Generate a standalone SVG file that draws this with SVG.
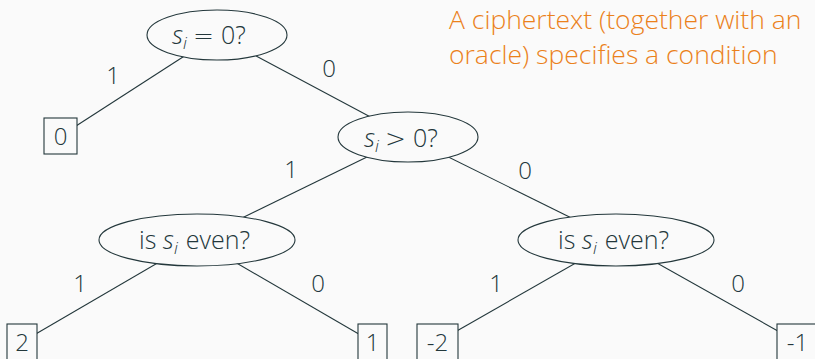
<svg xmlns="http://www.w3.org/2000/svg" width="815" height="359" viewBox="0 0 815 359">
  <style>
    .node { fill: #fafafa; stroke: #23373b; stroke-width: 1.1; }
    .edge { stroke: #23373b; stroke-width: 1.1; fill: none; }
    .lbl { font-family: "Open Sans", "Liberation Sans", sans-serif; font-weight: 300; font-size: 24px; fill: #23373b; text-anchor: middle; }
    .eq { font-family: "Open Sans", "Liberation Sans", sans-serif; font-weight: 300; font-size: 25px; fill: #23373b; }
    .sub { font-size: 17px; font-style: italic; }
    .var { font-style: italic; font-size: 26px; }
    .op { font-family: "DejaVu Sans", sans-serif; font-weight: 200; }
    .note { font-family: "Open Sans", "Liberation Sans", sans-serif; font-weight: 300; font-size: 26.5px; fill: #eb811b; }
  </style>
  <rect width="815" height="359" fill="#fafafa"/>

  <!-- connectors: drawn centre to centre, the node shapes cover the inner ends -->
  <g id="edges">
    <line class="edge" x1="217" y1="35" x2="60.5" y2="136"/>
    <line class="edge" x1="217" y1="35" x2="408" y2="137"/>
    <line class="edge" x1="408" y1="137" x2="197" y2="240"/>
    <line class="edge" x1="408" y1="137" x2="616" y2="240"/>
    <line class="edge" x1="197" y1="240" x2="22" y2="342"/>
    <line class="edge" x1="197" y1="240" x2="372.5" y2="342"/>
    <line class="edge" x1="616" y1="240" x2="437.5" y2="342"/>
    <line class="edge" x1="616" y1="240" x2="797.5" y2="342"/>
  </g>
  <g id="edge-labels">
    <text class="lbl" x="113" y="84">1</text>
    <text class="lbl" x="329" y="77">0</text>
    <text class="lbl" x="291" y="178">1</text>
    <text class="lbl" x="525" y="179">0</text>
    <text class="lbl" x="80" y="292">1</text>
    <text class="lbl" x="318" y="292">0</text>
    <text class="lbl" x="496" y="292">1</text>
    <text class="lbl" x="738" y="292">0</text>
  </g>

  <!-- decision nodes -->
  <g id="q-zero">
    <ellipse class="node" cx="217" cy="35" rx="70" ry="25"/>
    <text class="eq" x="172" y="44"><tspan class="var">s</tspan><tspan class="sub" dy="5">i</tspan><tspan class="op" dy="-5" dx="6">=</tspan><tspan dx="7">0?</tspan></text>
  </g>
  <g id="q-positive">
    <ellipse class="node" cx="408" cy="137" rx="70" ry="25"/>
    <text class="eq" x="364" y="147"><tspan class="var">s</tspan><tspan class="sub" dy="5">i</tspan><tspan class="op" dy="-5" dx="6">&gt;</tspan><tspan dx="7">0?</tspan></text>
  </g>
  <g id="q-even-left">
    <ellipse class="node" cx="197" cy="240" rx="98" ry="26"/>
    <text class="eq" x="139" y="249">is <tspan class="var">s</tspan><tspan class="sub" dy="5">i</tspan><tspan dy="-5" dx="8">even?</tspan></text>
  </g>
  <g id="q-even-right">
    <ellipse class="node" cx="616" cy="240" rx="98" ry="26"/>
    <text class="eq" x="558" y="249">is <tspan class="var">s</tspan><tspan class="sub" dy="5">i</tspan><tspan dy="-5" dx="8">even?</tspan></text>
  </g>

  <!-- leaves -->
  <g id="leaf-0">
    <rect class="node" x="44" y="118" width="33" height="36"/>
    <text class="lbl" x="60.5" y="145">0</text>
  </g>
  <g id="leaf-2">
    <rect class="node" x="7" y="324" width="30" height="40"/>
    <text class="lbl" x="22" y="351">2</text>
  </g>
  <g id="leaf-1">
    <rect class="node" x="358" y="324" width="29" height="40"/>
    <text class="lbl" x="372.5" y="351">1</text>
  </g>
  <g id="leaf-m2">
    <rect class="node" x="417" y="324" width="41" height="40"/>
    <text class="lbl" x="437.5" y="351">-2</text>
  </g>
  <g id="leaf-m1">
    <rect class="node" x="777" y="324" width="41" height="40"/>
    <text class="lbl" x="797.5" y="351">-1</text>
  </g>

  <g id="note">
    <text class="note" x="449" y="29">A ciphertext (together with an</text>
    <text class="note" x="449" y="64">oracle) specifies a condition</text>
  </g>
</svg>
